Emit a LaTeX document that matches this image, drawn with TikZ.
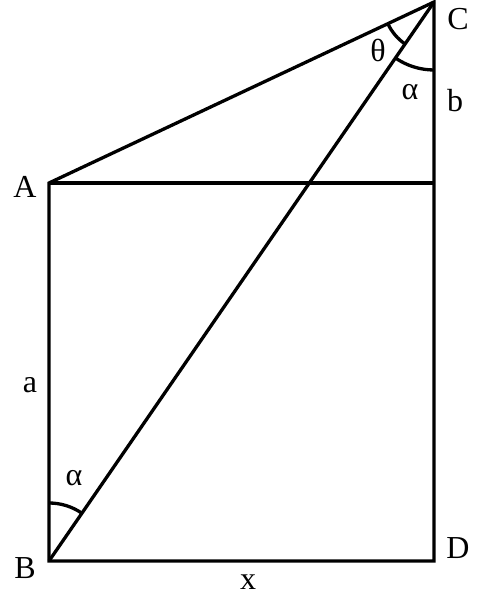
\documentclass[tikz,border=0pt]{standalone}
\usepackage{fontspec}
\setmainfont{Liberation Serif}
\usetikzlibrary{angles}

\begin{document}
\begin{tikzpicture}[x=1pt, y=1pt, line width=3.3pt,
    lbl/.style={inner sep=0pt, font=\fontsize{32}{38}\selectfont}]
    \useasboundingbox (0,0) rectangle (490,610);
    % corner points
    \coordinate (A) at (49,427);
    \coordinate (B) at (49,49);
    \coordinate (C) at (434,608);
    \coordinate (D) at (434,49);
    \coordinate (E) at (434,427);
    % figure
    \draw (A) -- (E);
    \draw (A) -- (B) -- (D) -- (C) -- cycle;
    \draw (B) -- (C);
    % angles
    \pic[draw, angle radius=58pt] {angle = C--B--A};
    \pic[draw, angle radius=51pt] {angle = A--C--B};
    \pic[draw, angle radius=68pt] {angle = B--C--D};
    % labels
    \node[lbl] (labC) at (458,591) {C};
    \node[lbl] (labA) at (25,423) {A};
    \node[lbl] (labB) at (25,42) {B};
    \node[lbl] (labD) at (458,62) {D};
    \node[lbl] (laba) at (30,225) {a};
    \node[lbl] (labb) at (455,509) {b};
    \node[lbl] (labx) at (248,28) {x};
    \node[lbl] (labt) at (378,560) {θ};
    \node[lbl] (labac) at (410,518) {α};
    \node[lbl] (labab) at (74,132) {α};
\end{tikzpicture}
\end{document}
